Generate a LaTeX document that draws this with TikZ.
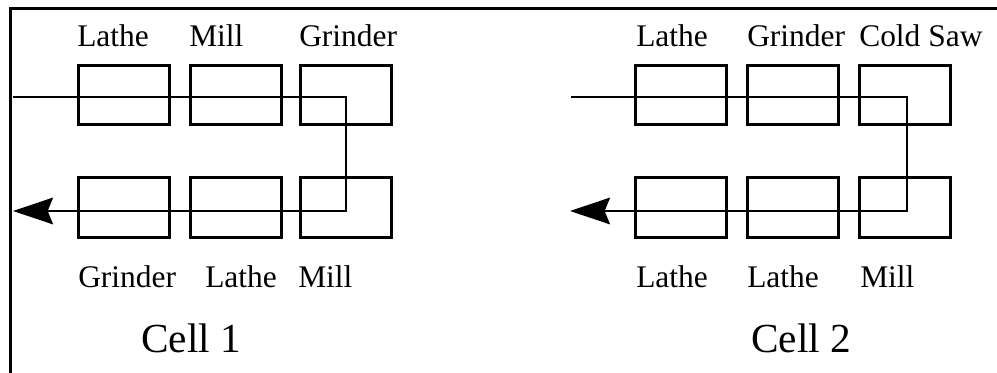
\documentclass[tikz,border=0pt]{standalone}
\usepackage{fontspec}
\setmainfont{Liberation Serif}
\usetikzlibrary{arrows.meta}
\tikzset{
  machine/.style={draw, line width=2.2pt, minimum width=68pt, minimum height=44.5pt, inner sep=0pt},
  flow/.style={line width=1.5pt, -{Stealth[length=30pt,width=20pt,inset=4pt]}},
  lbl/.style={font=\fontsize{23.6}{28}\selectfont, inner sep=0pt, anchor=base west},
  celllbl/.style={font=\fontsize{31}{36}\selectfont, inner sep=0pt, anchor=base west}
}
\begin{document}
\begin{tikzpicture}[x=0.75pt,y=-0.75pt]
      \useasboundingbox (0,0) rectangle (997,373);
      \draw [line width=2.5pt] (10.7,373) -- (10.7,8.7) -- (997,8.7);
      % cell 1
      \node [machine] (c1t1) at (124,95) {};
      \node [machine] (c1t2) at (236,95) {};
      \node [machine] (c1t3) at (346,95) {};
      \node [machine] (c1b1) at (124,207.5) {};
      \node [machine] (c1b2) at (236,207.5) {};
      \node [machine] (c1b3) at (346,207.5) {};
      \coordinate (in1) at (13,97);
      \coordinate (out1) at (13,211);
      \draw [flow] (in1) -- (in1 -| c1t3) -- (out1 -| c1t3) -- (out1);
      \node [lbl] (l1t1) at (77,47) {Lathe};
      \node [lbl] (l1t2) at (189,47) {Mill};
      \node [lbl] (l1t3) at (299,47) {Grinder};
      \node [lbl] (l1b1) at (78,288) {Grinder};
      \node [lbl] (l1b2) at (205,288) {Lathe};
      \node [lbl] (l1b3) at (298,288) {Mill};
      \node [celllbl] (cell1) at (141,353) {Cell 1};
      % cell 2
      \node [machine] (c2t1) at (681,95) {};
      \node [machine] (c2t2) at (793,95) {};
      \node [machine] (c2t3) at (905,95) {};
      \node [machine] (c2b1) at (681,207.5) {};
      \node [machine] (c2b2) at (793,207.5) {};
      \node [machine] (c2b3) at (905,207.5) {};
      \coordinate (in2) at (571,97);
      \coordinate (out2) at (570,211);
      \draw [flow] (in2) -- (in2 -| 907,0) -- (out2 -| 907,0) -- (out2);
      \node [lbl] (l2t1) at (636,47) {Lathe};
      \node [lbl] (l2t2) at (747,47) {Grinder};
      \node [lbl] (l2t3) at (859,47) {Cold Saw};
      \node [lbl] (l2b1) at (636,288) {Lathe};
      \node [lbl] (l2b2) at (747,288) {Lathe};
      \node [lbl] (l2b3) at (860,288) {Mill};
      \node [celllbl] (cell2) at (751,353) {Cell 2};
\end{tikzpicture}
\end{document}
